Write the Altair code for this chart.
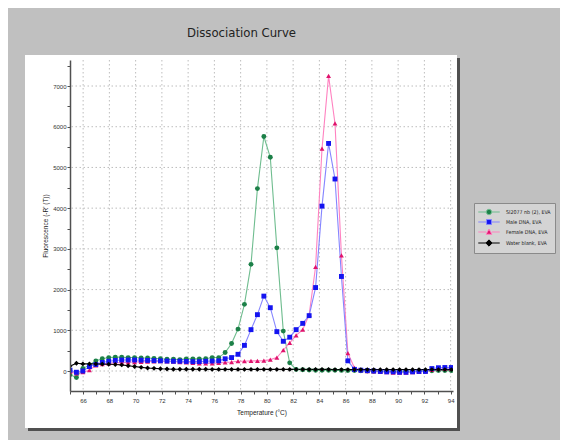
import altair as alt
import pandas as pd

# ---------------- data ----------------
temps = [65.00, 65.49, 65.98, 66.48, 66.97, 67.46, 67.95, 68.45, 68.94, 69.43,
         69.92, 70.42, 70.91, 71.40, 71.89, 72.39, 72.88, 73.37, 73.86, 74.36,
         74.85, 75.34, 75.83, 76.33, 76.82, 77.31, 77.80, 78.29, 78.79, 79.28,
         79.77, 80.26, 80.76, 81.25, 81.74, 82.23, 82.73, 83.22, 83.71, 84.20,
         84.70, 85.19, 85.68, 86.17, 86.67, 87.16, 87.65, 88.14, 88.64, 89.13,
         89.62, 90.11, 90.60, 91.10, 91.59, 92.08, 92.57, 93.07, 93.56, 94.05]

series_names = ["SI2077 nb (2), EVA", "Male DNA, EVA", "Female DNA, EVA", "Water blank, EVA"]

green = [-90, -160, 60, 150, 250, 300, 330, 340, 340, 330,
         330, 320, 320, 310, 300, 290, 290, 280, 297, 297,
         297, 300, 330, 330, 453, 674, 1030, 1637, 2620, 4480,
         5760, 5250, 3025, 980, 200, 40, 30, 25, 20, 20,
         20, 20, 15, 10, 10, 5, 0, -5, -10, -10,
         -10, -10, -10, -5, 0, 0, 5, 10, 10, 10]

blue = [20, -30, 0, 110, 160, 210, 240, 260, 270, 270,
        270, 265, 260, 255, 250, 245, 240, 240, 235, 230,
        230, 240, 245, 250, 300, 330, 410, 630, 1016, 1384,
        1840, 1555, 967, 730, 830, 1016, 1170, 1360, 2050, 4050,
        5590, 4716, 2322, 250, 40, 20, 10, 0, -10, -20,
        -20, -30, -30, -20, -10, -10, 60, 80, 86, 86]

pink = [-20, -60, -30, 20, 140, 170, 190, 200, 210, 215,
        220, 225, 230, 235, 240, 235, 230, 220, 210, 200,
        190, 190, 190, 200, 210, 220, 240, 240, 250, 250,
        255, 280, 330, 510, 690, 877, 1016, 1380, 2560, 5460,
        7250, 6080, 2840, 440, 80, 20, 0, -10, -20, -30,
        -40, -40, -40, -30, -20, -10, 30, 50, 50, 50]

black = [120, 190, 175, 175, 175, 170, 165, 160, 150, 130,
         110, 90, 75, 65, 55, 50, 45, 45, 45, 45,
         45, 45, 40, 40, 40, 40, 40, 40, 40, 40,
         40, 40, 40, 40, 40, 40, 40, 40, 40, 40,
         40, 35, 35, 35, 35, 35, 35, 35, 35, 35,
         35, 35, 35, 35, 35, 35, 35, 35, 35, 35]

x_ticks = [65, 66, 67, 68, 69, 70, 71, 72, 73, 74, 75, 76, 77, 78, 79,
           80, 81, 82, 83, 84, 85, 86, 87, 88, 89, 90, 91, 92, 93, 94]
x_grid = [66, 68, 70, 72, 74, 76, 78, 80, 82, 84, 86, 88, 90, 92, 94]
y_ticks = [0, 500, 1000, 1500, 2000, 2500, 3000, 3500, 4000, 4500,
           5000, 5500, 6000, 6500, 7000, 7500]
y_grid = [0, 1000, 2000, 3000, 4000, 5000, 6000, 7000]

# ---------------- build table ----------------
draw_order = [0, 2, 1, 3]
all_vals = [green, blue, pink, black]
rows = []
for i in draw_order:
    for t, v in zip(temps, all_vals[i]):
        rows.append({"temp": t, "value": v, "series": series_names[i], "o": draw_order.index(i)})
df = pd.DataFrame(rows)

line_colors = ["#6fbd8f", "#8585ff", "#ff82c0", "#000000"]
marker_colors = ["#1c8048", "#1414f0", "#e0126c", "#000000"]
shapes = ["circle", "square", "triangle-up", "diamond"]
legend_shapes = [
    "M-2.4,0H-0.6M0.6,0H2.4M0.6,0A0.6,0.6,0,1,1,-0.6,0A0.6,0.6,0,1,1,0.6,0Z",
    "M-2.4,0H-0.55M0.55,0H2.4M-0.55,-0.55H0.55V0.55H-0.55Z",
    "M-2.4,0H-0.65M0.65,0H2.4M0,-0.65L0.65,0.5L-0.65,0.5Z",
    "M-2.4,0H-0.7M0.7,0H2.4M0,-0.7L0.7,0L0,0.7L-0.7,0Z",
]

W, H = 383, 331
FONT = "Liberation Sans, Arial, sans-serif"
NARROW = "Liberation Sans Narrow, Arial Narrow, DejaVu Sans Condensed, Liberation Sans, sans-serif"

x_axis = alt.Axis(values=x_ticks, labelExpr="datum.value % 2 === 0 ? datum.label : ''",
                  grid=False, tickSize=3, labelPadding=3, labelFontSize=6, titleFontSize=6.5,
                  titlePadding=6, zindex=1)
y_axis = alt.Axis(values=y_ticks, labelExpr="datum.value % 1000 === 0 ? datum.label : ''",
                  format="d", grid=False, tickSize=3, labelPadding=1, labelFontSize=6,
                  titleFontSize=6.5, titlePadding=4, zindex=1)

x_enc = alt.X("temp:Q", scale=alt.Scale(domain=[65.0, 94.18], nice=False, zero=False),
              axis=x_axis, title="Temperature (°C)")
y_enc = alt.Y("value:Q", scale=alt.Scale(domain=[-491, 7639], nice=False, zero=False),
              axis=y_axis, title="Fluorescence (-R' (T))")

one = alt.Data(values=[{}])
shadow = alt.Chart(one).mark_rect(fill="#505050").encode(
    x=alt.value(-42), x2=alt.value(W + 7), y=alt.value(-2), y2=alt.value(H + 40))
panel = alt.Chart(one).mark_rect(fill="#ffffff").encode(
    x=alt.value(-45), x2=alt.value(W + 4), y=alt.value(-5), y2=alt.value(H + 37))

gx = alt.Chart(pd.DataFrame({"temp": x_grid})).mark_rule(
    color="#bdbdbd", strokeDash=[1.5, 2.5], strokeWidth=1).encode(x=x_enc)
gy = alt.Chart(pd.DataFrame({"value": y_grid})).mark_rule(
    color="#bdbdbd", strokeDash=[1.5, 2.5], strokeWidth=1).encode(y=y_enc)

lines = alt.Chart(df).mark_line(strokeWidth=1.1, clip=True).encode(
    x=x_enc, y=y_enc,
    color=alt.Color("series:N", scale=alt.Scale(domain=series_names, range=line_colors), legend=None),
)
points = alt.Chart(df).mark_point(filled=True, opacity=1, size=24, clip=True).encode(
    x=x_enc, y=y_enc,
    fill=alt.Fill("series:N", scale=alt.Scale(domain=series_names, range=marker_colors), legend=None),
    shape=alt.Shape("series:N", scale=alt.Scale(domain=series_names, range=shapes), legend=None),
    order=alt.Order("o:Q"),
)

leg = alt.Legend(title=None, orient="none", legendX=404, legendY=143,
                 fillColor="#d4d4d4", strokeColor="#8a8a8a", padding=4,
                 labelFontSize=5.3, labelFont=NARROW, labelColor="#222222",
                 symbolSize=80, symbolStrokeWidth=1, symbolOffset=6, labelOffset=12,
                 rowPadding=0)
legend_layer = alt.Chart(df).mark_point(filled=True, opacity=1, strokeWidth=1).encode(
    fill=alt.Fill("series:N", scale=alt.Scale(domain=series_names, range=marker_colors), legend=leg),
    stroke=alt.Stroke("series:N", scale=alt.Scale(domain=series_names, range=line_colors), legend=leg),
    shape=alt.Shape("series:N", scale=alt.Scale(domain=series_names, range=legend_shapes), legend=leg),
).transform_filter("false")

chart = alt.layer(shadow, panel, gx, gy, lines, points, legend_layer).resolve_scale(
    fill="independent", stroke="independent", shape="independent", color="independent"
).properties(
    width=W, height=H,
    title=alt.TitleParams("Dissociation Curve", fontSize=13, font=NARROW,
                          fontWeight="normal", color="#222222", anchor="middle", dx=-20, offset=15),
    autosize=alt.AutoSizeParams(type="none"),
    padding={"left": 62, "top": 52, "right": 107, "bottom": 49},
).configure(background="#c0c0c0").configure_view(stroke=None).configure_axis(
    domainColor="#505050", domainWidth=1.5, tickColor="#505050", labelColor="#333333",
    titleColor="#222222", titleFontWeight="normal", labelFont=FONT, titleFont=FONT,
)

chart.save("out.html", embed_options={"renderer": "svg", "actions": False})
